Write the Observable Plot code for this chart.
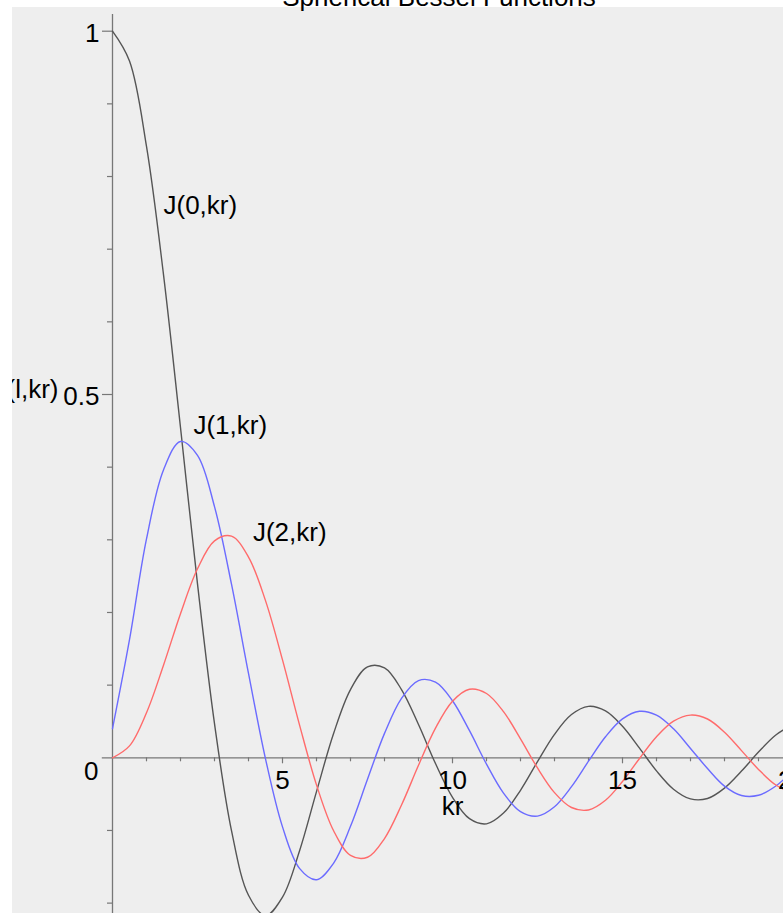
<!DOCTYPE html>
<html>
<head>
<meta charset="utf-8">
<script src="https://cdn.jsdelivr.net/npm/d3@7"></script>
<script src="https://cdn.jsdelivr.net/npm/@observablehq/plot@0.6"></script>
<style>
html, body { margin: 0; padding: 0; background: #ffffff; overflow: hidden; }
#wrap { position: relative; width: 783px; height: 913px; overflow: hidden; }
#chart { position: absolute; left: 12px; top: 7px; }
#chart svg { overflow: hidden; }
#title { position: absolute; top: -16px; left: 439px; transform: translateX(-50%);
  font: 26px "Liberation Sans", Arial, sans-serif; line-height: 26px; white-space: nowrap; color: #000; z-index: 2; }
</style>
</head>
<body>
<div id="wrap">
  <div id="chart"></div>
  <div id="title">Spherical Bessel Functions</div>
</div>
<script>
// ---- data ----
const kr = [0, 0.5, 1, 1.5, 2, 2.5, 3, 3.5, 4, 4.5, 5, 5.5, 6, 6.5, 7, 7.5, 8, 8.5, 9, 9.5, 10,
            10.5, 11, 11.5, 12, 12.5, 13, 13.5, 14, 14.5, 15, 15.5, 16, 16.5, 17, 17.5, 18, 18.5, 19, 19.5, 20];
const j0 = [1, 0.9589, 0.8415, 0.6650, 0.4546, 0.2394, 0.0470, -0.1002, -0.1892, -0.2172, -0.1918,
            -0.1283, -0.0466, 0.0331, 0.0939, 0.1251, 0.1237, 0.0939, 0.0458, -0.0079, -0.0544,
            -0.0838, -0.0909, -0.0761, -0.0447, -0.0053, 0.0323, 0.0595, 0.0708, 0.0645, 0.0434,
            0.0133, -0.0180, -0.0432, -0.0566, -0.0560, -0.0417, -0.0183, 0.0079, 0.0311, 0.0456];
const j1 = [0.04, 0.1625, 0.3012, 0.3962, 0.4354, 0.4162, 0.3457, 0.2389, 0.1161, -0.0014, -0.0951,
            -0.1522, -0.1678, -0.1452, -0.0943, -0.0295, 0.0336, 0.0819, 0.1063, 0.1041, 0.0785,
            0.0373, -0.0087, -0.0486, -0.0740, -0.0802, -0.0673, -0.0397, -0.0047, 0.0289, 0.0535,
            0.0640, 0.0587, 0.0399, 0.0129, -0.0148, -0.0390, -0.0519, -0.0516, -0.0392, -0.0181];
const j2 = [0, 0.0164, 0.0620, 0.1274, 0.1984, 0.2601, 0.2986, 0.3050, 0.2763, 0.2163, 0.1347,
            0.0453, -0.0373, -0.1001, -0.1343, -0.1369, -0.1111, -0.0650, -0.0103, 0.0408, 0.0779,
            0.0944, 0.0885, 0.0635, 0.0262, -0.0140, -0.0479, -0.0684, -0.0718, -0.0585, -0.0326,
            -0.0009, 0.0290, 0.0504, 0.0588, 0.0534, 0.0352, 0.0099, -0.0160, -0.0371, -0.0484];

const seriesNames = ["J(0,kr)", "J(1,kr)", "J(2,kr)"];
const seriesColors = ["#555555", "#6b6bff", "#ff6b6b"];
const labelX = [1.5, 2.38, 4.13];
const labelY = [0.7605, 0.4577, 0.3105];

const yMinorTicks = [-0.2, -0.1, 0.1, 0.2, 0.3, 0.4, 0.6, 0.7, 0.8, 0.9];
const yMajorTicks = [0.5, 1];
const yMajorLabels = ["0.5", "1"];
const yZeroLabel = ["0"];
const xMinorTicks = [1, 2, 3, 4, 6, 7, 8, 9, 11, 12, 13, 14, 16, 17, 18, 19];
const xMajorTicks = [5, 10, 15, 20];
const xTickLabels = ["5", "10", "15", "20"];
const xTitle = "kr";
const yTitle = "J(l,kr)";

// ---- build table ----
const series = [j0, j1, j2];
const rows = [];
series.forEach((vals, s) => vals.forEach((v, i) => rows.push({kr: kr[i], v, series: seriesNames[s]})));

const font = "Liberation Sans, Arial, Helvetica, sans-serif";
const axisColor = "#777777";
const textColor = "#000000";

const chart = Plot.plot({
  width: 771,
  height: 906,
  marginLeft: 100,
  marginRight: 0,
  marginTop: 0,
  marginBottom: 0,
  style: {background: "#eeeeee", fontFamily: font, overflow: "hidden"},
  x: {domain: [0, 20], range: [100, 780], axis: null},
  y: {domain: [0, 1], range: [750.3, 23.7], axis: null},
  color: {domain: seriesNames, range: seriesColors},
  marks: [
    // axes lines
    Plot.ruleY([0], {x1: -0.3, x2: 21, stroke: axisColor, strokeWidth: 1.3}),
    Plot.ruleX([0], {y1: -0.3, y2: 1.023, stroke: axisColor, strokeWidth: 1.3}),
    // y ticks
    Plot.ruleY(yMinorTicks, {x1: 0, x2: 0, insetLeft: -5, stroke: axisColor, strokeWidth: 1.2}),
    Plot.ruleY(yMajorTicks, {x1: 0, x2: 0, insetLeft: -10, stroke: axisColor, strokeWidth: 1.2}),
    // x ticks
    Plot.ruleX(xMinorTicks, {y1: 0, y2: 0, insetBottom: -4, stroke: axisColor, strokeWidth: 1.2}),
    Plot.ruleX(xMajorTicks, {y1: 0, y2: 0, insetBottom: -6, stroke: axisColor, strokeWidth: 1.2}),
    // curves
    Plot.line(rows, {x: "kr", y: "v", stroke: "series", z: "series", curve: "catmull-rom", strokeWidth: 1.4}),
    // tick labels
    Plot.text(yMajorLabels, {x: () => 0, y: (d, i) => yMajorTicks[i], text: d => d, textAnchor: "end",
      dx: -13, dy: 2.5, fontSize: 26, fill: textColor}),
    Plot.text(yZeroLabel, {x: () => 0, y: () => 0, text: d => d, textAnchor: "end",
      dx: -14, dy: 13.5, fontSize: 26, fill: textColor}),
    Plot.text(xTickLabels, {x: (d, i) => xMajorTicks[i], y: () => 0, text: d => d,
      dy: 22.5, fontSize: 26, fill: textColor}),
    // axis titles
    Plot.text([xTitle], {x: () => 10, y: () => 0, text: d => d, dy: 49, fontSize: 26, fill: textColor}),
    Plot.text([yTitle], {x: () => 0, y: () => 0.5, text: d => d, textAnchor: "end",
      dx: -54, dy: -5, fontSize: 26, fill: textColor}),
    // curve labels
    Plot.text(seriesNames, {x: (d, i) => labelX[i], y: (d, i) => labelY[i], text: d => d,
      textAnchor: "start", fontSize: 26, fill: textColor})
  ]
});
document.getElementById("chart").appendChild(chart);
</script>
</body>
</html>
